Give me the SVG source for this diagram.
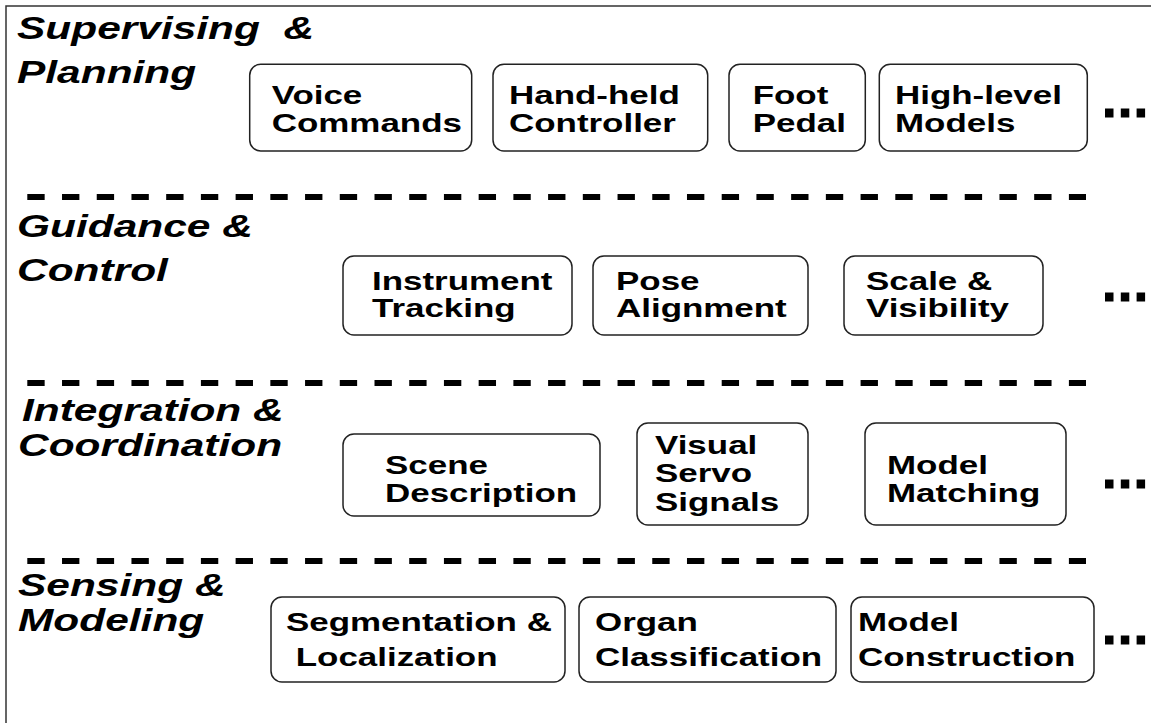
<svg xmlns="http://www.w3.org/2000/svg" width="1151" height="723" viewBox="0 0 1151 723">
<style>
.bg{fill:#fff}
.frame{fill:none;stroke:#333;stroke-width:1.5}
.box{fill:#fff;stroke:#222;stroke-width:1.5}
.t{font-family:"Liberation Sans",Arial,sans-serif;font-weight:bold;font-size:25.5px;fill:#000}
.h{font-family:"Liberation Sans",Arial,sans-serif;font-weight:bold;font-style:italic;font-size:31px;fill:#000;white-space:pre}
.div{fill:none;stroke:#000;stroke-width:6;stroke-dasharray:17.36 17.36}
.dots{fill:none;stroke:#000;stroke-width:9;stroke-dasharray:8.5 7.3}
</style>
<rect class="bg" x="0" y="0" width="1151" height="723"/>
<path class="frame" d="M6,723 V6 H1151"/>
<g id="connectors">
<path class="div" d="M27.3,197 H1086"/>
<path class="div" d="M27.3,383 H1086"/>
<path class="div" d="M27.3,561 H1086"/>
<path class="dots" d="M1105,113 h40.1"/>
<path class="dots" d="M1105,297 h40.1"/>
<path class="dots" d="M1105,484 h40.1"/>
<path class="dots" d="M1105,640 h40.1"/>
</g>
<g id="layer-supervising">
<text class="h" transform="translate(17,39) scale(1.37,1)"><tspan x="0" y="0">Supervising  &amp;</tspan><tspan x="0" y="44">Planning</tspan></text>
</g>
<g id="layer-guidance">
<text class="h" transform="translate(17,237) scale(1.37,1)"><tspan x="0" y="0">Guidance &amp;</tspan><tspan x="0" y="44">Control</tspan></text>
</g>
<g id="layer-integration">
<text class="h" transform="translate(22,421) scale(1.37,1)"><tspan x="0" y="0">Integration &amp;</tspan><tspan x="-2.9" y="35">Coordination</tspan></text>
</g>
<g id="layer-sensing">
<text class="h" transform="translate(18,596) scale(1.37,1)"><tspan x="0" y="0">Sensing &amp;</tspan><tspan x="0" y="35">Modeling</tspan></text>
</g>
<g id="voice-commands">
<rect class="box" x="249.7" y="64.3" width="222" height="86.7" rx="11"/>
<text class="t" transform="translate(271.7,103.5) scale(1.37,1)"><tspan x="0" y="0">Voice</tspan><tspan x="0" y="28.7">Commands</tspan></text>
</g>
<g id="hand-held-controller">
<rect class="box" x="493" y="64.3" width="214.7" height="86.7" rx="11"/>
<text class="t" transform="translate(509,103.5) scale(1.37,1)"><tspan x="0" y="0">Hand-held</tspan><tspan x="0" y="28.7">Controller</tspan></text>
</g>
<g id="foot-pedal">
<rect class="box" x="729" y="64.3" width="136.3" height="86.7" rx="11"/>
<text class="t" transform="translate(752.7,103.5) scale(1.37,1)"><tspan x="0" y="0">Foot</tspan><tspan x="0" y="28.7">Pedal</tspan></text>
</g>
<g id="high-level-models">
<rect class="box" x="879.3" y="64.3" width="208" height="86.7" rx="11"/>
<text class="t" transform="translate(895,103.5) scale(1.37,1)"><tspan x="0" y="0">High-level</tspan><tspan x="0" y="28.7">Models</tspan></text>
</g>
<g id="instrument-tracking">
<rect class="box" x="343" y="256" width="229" height="79" rx="11"/>
<text class="t" transform="translate(372,290) scale(1.37,1)"><tspan x="0" y="0">Instrument</tspan><tspan x="0" y="27.5">Tracking</tspan></text>
</g>
<g id="pose-alignment">
<rect class="box" x="593" y="256" width="215" height="79" rx="11"/>
<text class="t" transform="translate(616,290) scale(1.37,1)"><tspan x="0" y="0">Pose</tspan><tspan x="0" y="27.5">Alignment</tspan></text>
</g>
<g id="scale-visibility">
<rect class="box" x="844" y="256" width="199" height="79" rx="11"/>
<text class="t" transform="translate(866,290) scale(1.37,1)"><tspan x="0" y="0">Scale &amp;</tspan><tspan x="0" y="27.5">Visibility</tspan></text>
</g>
<g id="scene-description">
<rect class="box" x="343" y="434" width="257" height="82" rx="11"/>
<text class="t" transform="translate(385,474) scale(1.37,1)"><tspan x="0" y="0">Scene</tspan><tspan x="0" y="28.5">Description</tspan></text>
</g>
<g id="visual-servo-signals">
<rect class="box" x="637" y="423" width="171" height="102" rx="11"/>
<text class="t" transform="translate(655,454) scale(1.37,1)"><tspan x="0" y="0">Visual</tspan><tspan x="0" y="28.5">Servo</tspan><tspan x="0" y="57">Signals</tspan></text>
</g>
<g id="model-matching">
<rect class="box" x="865" y="423" width="201" height="102" rx="11"/>
<text class="t" transform="translate(887,474) scale(1.37,1)"><tspan x="0" y="0">Model</tspan><tspan x="0" y="28.5">Matching</tspan></text>
</g>
<g id="segmentation-localization">
<rect class="box" x="271" y="597" width="294" height="85" rx="11"/>
<text class="t" transform="translate(286,631) scale(1.37,1)" style="white-space:pre"><tspan x="0" y="0">Segmentation &amp;</tspan><tspan x="0" y="35"> Localization</tspan></text>
</g>
<g id="organ-classification">
<rect class="box" x="579" y="597" width="257" height="85" rx="11"/>
<text class="t" transform="translate(595,631) scale(1.37,1)"><tspan x="0" y="0">Organ</tspan><tspan x="0" y="35">Classification</tspan></text>
</g>
<g id="model-construction">
<rect class="box" x="851" y="597" width="243" height="85" rx="11"/>
<text class="t" transform="translate(858,631) scale(1.37,1)"><tspan x="0" y="0">Model</tspan><tspan x="0" y="35">Construction</tspan></text>
</g>
</svg>
